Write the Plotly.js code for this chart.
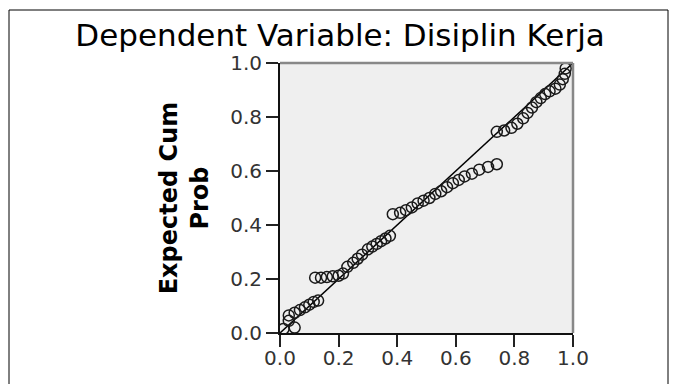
<!DOCTYPE html>
<html>
<head>
<meta charset="utf-8">
<script src="https://cdn.plot.ly/plotly-3.0.1.min.js"></script>
<style>
html,body{margin:0;padding:0;background:#fff;}
#chart{width:676px;height:384px;}
</style>
</head>
<body>
<div id="chart"></div>
<script>
// Observed cumulative probability (x) and expected cumulative probability (y)
const observedCumProb = [
  0.012, 0.050, 0.030,
  0.030, 0.050, 0.068, 0.085, 0.100, 0.115, 0.130,
  0.120, 0.140, 0.160, 0.180, 0.200, 0.215,
  0.230, 0.250, 0.265, 0.280, 0.300, 0.315, 0.330, 0.345, 0.360, 0.375,
  0.385, 0.410, 0.430, 0.450, 0.470, 0.490, 0.510, 0.530, 0.550, 0.570, 0.590, 0.610, 0.630, 0.655, 0.680, 0.710, 0.740,
  0.740, 0.765, 0.790, 0.810, 0.830, 0.845, 0.860, 0.875, 0.890, 0.905, 0.920, 0.940, 0.955, 0.965, 0.972, 0.975
];
const expectedCumProb = [
  0.015, 0.020, 0.045,
  0.065, 0.075, 0.085, 0.095, 0.105, 0.115, 0.120,
  0.205, 0.205, 0.207, 0.210, 0.212, 0.220,
  0.245, 0.260, 0.275, 0.290, 0.310, 0.320, 0.330, 0.340, 0.350, 0.360,
  0.440, 0.445, 0.455, 0.465, 0.480, 0.490, 0.500, 0.515, 0.525, 0.540, 0.555, 0.567, 0.580, 0.590, 0.605, 0.615, 0.625,
  0.745, 0.750, 0.760, 0.775, 0.795, 0.815, 0.835, 0.855, 0.870, 0.885, 0.895, 0.905, 0.920, 0.940, 0.960, 0.980
];
// Reference (diagonal) line
const refX = [0, 1];
const refY = [0, 1];
const tickVals = [0, 0.2, 0.4, 0.6, 0.8, 1.0];
const tickText = ['0.0', '0.2', '0.4', '0.6', '0.8', '1.0'];

const chartTitle = 'Dependent Variable: Disiplin Kerja';
const yTitle = 'Expected Cum<br>Prob';

const traces = [
  {
    x: refX, y: refY, type: 'scatter', mode: 'lines',
    line: {color: '#000', width: 1.5}, hoverinfo: 'skip', showlegend: false
  },
  {
    x: observedCumProb, y: expectedCumProb, type: 'scatter', mode: 'markers',
    marker: {symbol: 'circle-open', size: 11, color: '#1a1a1a', line: {width: 1.5, color: '#1a1a1a'}},
    showlegend: false
  }
];

const L = 280, R = 573, T = 63, B = 333;
const W = R - L, H = B - T;
const px = v => (v - L) / W;
const py = v => (B - v) / H;

const layout = {
  width: 676, height: 384,
  margin: {l: L, r: 676 - R, t: T, b: 384 - B, pad: 0},
  paper_bgcolor: '#fff',
  plot_bgcolor: '#efefef',
  font: {family: 'DejaVu Sans', color: '#333'},
  title: {
    text: chartTitle,
    font: {family: 'DejaVu Sans', size: 31, color: '#000'},
    xref: 'container', x: 0.503, xanchor: 'center',
    yref: 'container', y: 1 - 35 / 384, yanchor: 'middle'
  },
  xaxis: {
    range: [0, 1], tickvals: tickVals, ticktext: tickText,
    showgrid: false, zeroline: false,
    showline: true, linecolor: '#111', linewidth: 2,
    ticks: 'outside', ticklen: 12, tickwidth: 2, tickcolor: '#222',
    ticklabelstandoff: -6,
    tickfont: {family: 'DejaVu Sans', size: 20, color: '#333'},
    fixedrange: true
  },
  yaxis: {
    range: [0, 1], tickvals: tickVals, ticktext: tickText,
    showgrid: false, zeroline: false,
    showline: true, linecolor: '#111', linewidth: 2,
    ticks: 'outside', ticklen: 12, tickwidth: 2, tickcolor: '#222',
    tickfont: {family: 'DejaVu Sans', size: 20, color: '#333'},
    title: {text: yTitle, font: {family: 'DejaVu Sans', size: 24, color: '#000', weight: 'bold'}, standoff: 15},
    fixedrange: true
  },
  shapes: [
    {type: 'line', xref: 'paper', yref: 'paper', x0: 0, x1: 1, y0: 1, y1: 1, line: {color: '#888', width: 2.5}, layer: 'above'},
    {type: 'line', xref: 'paper', yref: 'paper', x0: 1, x1: 1, y0: 0, y1: 1, line: {color: '#888', width: 2.5}, layer: 'above'},
    {type: 'rect', xref: 'paper', yref: 'paper', x0: px(9), x1: px(668), y0: py(395), y1: py(10), line: {color: '#000', width: 1}, fillcolor: 'rgba(0,0,0,0)', layer: 'below'}
  ]
};

Plotly.newPlot('chart', traces, layout, {staticPlot: true, displayModeBar: false});
</script>
</body>
</html>
